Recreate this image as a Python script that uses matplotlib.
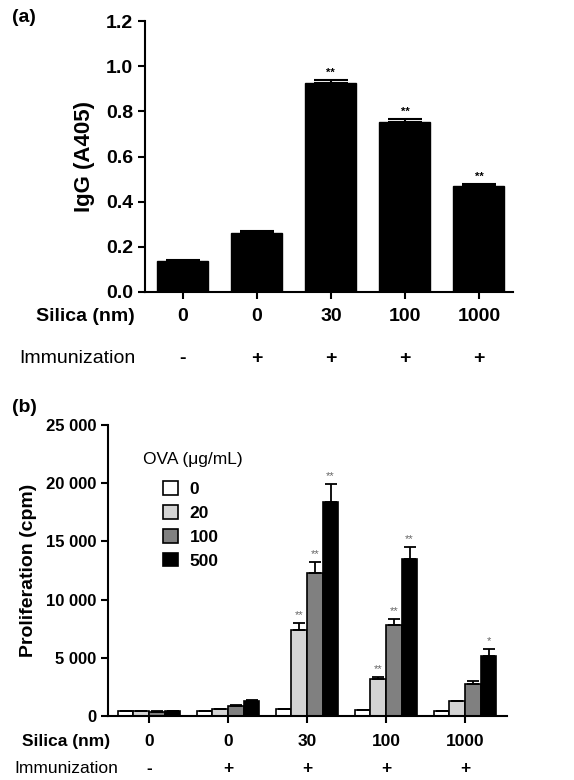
import numpy as np
import matplotlib
matplotlib.use("Agg")
import matplotlib.pyplot as plt
from matplotlib.patches import Patch

plt.rcParams['font.family'] = ['Liberation Sans', 'DejaVu Sans']
plt.rcParams['font.weight'] = 'bold'
plt.rcParams['axes.labelweight'] = 'bold'

# ---- data ----
silica = ['0', '0', '30', '100', '1000']
immunization = ['-', '+', '+', '+', '+']

igg = [0.137, 0.26, 0.925, 0.753, 0.469]
igg_err = [0.003, 0.01, 0.015, 0.014, 0.008]
igg_stars = ['', '', '**', '**', '**']

ova_doses = ['0', '20', '100', '500']
prolif = {
    '0':   [400, 420, 570, 515, 430],
    '20':  [400, 570, 7420, 3150, 1260],
    '100': [380, 900, 12290, 7850, 2780],
    '500': [420, 1290, 18360, 13460, 5150],
}
prolif_err = {
    '0':   [20, 20, 30, 30, 30],
    '20':  [20, 30, 570, 230, 60],
    '100': [20, 40, 910, 450, 220],
    '500': [30, 60, 1540, 1090, 580],
}
prolif_stars = {
    '0':   ['', '', '', '', ''],
    '20':  ['', '', '**', '**', ''],
    '100': ['', '', '**', '**', ''],
    '500': ['', '', '**', '**', '*'],
}
bar_colors = ['white', '#d4d4d4', '#808080', 'black']

W, H = 574, 780
fig = plt.figure(figsize=(W / 100, H / 100), dpi=100)


def px_axes(left, top, right, bottom):
    return fig.add_axes([left / W, 1 - bottom / H, (right - left) / W, (bottom - top) / H])


def style(ax):
    for s in ('top', 'right'):
        ax.spines[s].set_visible(False)
    for s in ('left', 'bottom'):
        ax.spines[s].set_linewidth(1.5)
    ax.tick_params(width=1.5, length=5, direction='out')


# ---- panel (a) ----
ax1 = px_axes(145, 21, 513, 292)
x = np.arange(len(silica))
ax1.bar(x, igg, width=0.69, color='black', edgecolor='black')
ax1.errorbar(x, igg, yerr=[np.zeros(len(igg)), igg_err], fmt='none',
             ecolor='black', elinewidth=1.5, capsize=12, capthick=1.5)
for xi, v, e, s in zip(x, igg, igg_err, igg_stars):
    if s:
        ax1.text(xi, v + e + 0.01, s, ha='center', va='bottom', fontsize=8)
ax1.set_xlim(-0.51, 4.46)
ax1.set_ylim(0, 1.2)
ax1.set_yticks(np.arange(0, 1.21, 0.2))
ax1.set_yticklabels([f'{v:.1f}' for v in np.arange(0, 1.21, 0.2)], fontsize=14)
ax1.set_xticks(x)
ax1.set_xticklabels([])
ax1.set_ylabel('IgG (A405)', fontsize=16, fontweight='bold', labelpad=8)
style(ax1)
for xi, s, im in zip(x, silica, immunization):
    ax1.text(xi, -0.092, s, transform=ax1.get_xaxis_transform(),
             ha='center', va='center', fontsize=14)
    ax1.text(xi, -0.244, im, transform=ax1.get_xaxis_transform(),
             ha='center', va='center', fontsize=14)
ax1.text(-0.027, -0.092, 'Silica (nm)', transform=ax1.transAxes,
         ha='right', va='center', fontsize=14)
ax1.text(-0.027, -0.244, 'Immunization', transform=ax1.transAxes,
         ha='right', va='center', fontsize=14, fontweight='normal')
fig.text(12 / W, 1 - 17 / H, '(a)', fontsize=14, va='center', ha='left')

# ---- panel (b) ----
ax2 = px_axes(108, 425, 507, 716)
bw = 0.198
for i, dose in enumerate(ova_doses):
    xs = x + (i - 1.5) * bw
    ax2.bar(xs, prolif[dose], width=bw, color=bar_colors[i], edgecolor='black', linewidth=1.2)
    ax2.errorbar(xs, prolif[dose], yerr=[np.zeros(5), prolif_err[dose]], fmt='none',
                 ecolor='black', elinewidth=1.3, capsize=4.5, capthick=1.3)
    for xi, v, e, s in zip(xs, prolif[dose], prolif_err[dose], prolif_stars[dose]):
        if s:
            ax2.text(xi, v + e + 250, s, ha='center', va='bottom', fontsize=8,
                     color='#666666', fontweight='normal')
ax2.set_xlim(-0.52, 4.53)
ax2.set_ylim(0, 25000)
yt = np.arange(0, 25001, 5000)
ax2.set_yticks(yt)
ax2.set_yticklabels(['0' if v == 0 else f'{v // 1000} 000' for v in yt], fontsize=12)
ax2.set_xticks(x)
ax2.set_xticklabels([])
ax2.set_ylabel('Proliferation (cpm)', fontsize=14, fontweight='bold', labelpad=6)
style(ax2)
for xi, s, im in zip(x, silica, immunization):
    ax2.text(xi, -0.089, s, transform=ax2.get_xaxis_transform(),
             ha='center', va='center', fontsize=12.5)
    ax2.text(xi, -0.182, im, transform=ax2.get_xaxis_transform(),
             ha='center', va='center', fontsize=12.5)
ax2.text(0.005, -0.089, 'Silica (nm)', transform=ax2.transAxes,
         ha='right', va='center', fontsize=12.5)
ax2.text(0.025, -0.182, 'Immunization', transform=ax2.transAxes,
         ha='right', va='center', fontsize=12.5, fontweight='normal')

ax2.text(0.088, 0.883, 'OVA (\u03bcg/mL)', transform=ax2.transAxes,
         ha='left', va='center', fontsize=12.5, fontweight='normal')
handles = [Patch(facecolor=c, edgecolor='black', linewidth=1.2) for c in bar_colors]
ax2.legend(handles, ova_doses, loc='upper left', bbox_to_anchor=(0.12, 0.83),
           frameon=False, fontsize=12.5, handlelength=0.85, handleheight=0.85,
           handletextpad=0.7, labelspacing=0.45, borderaxespad=0)
fig.text(12 / W, 1 - 407 / H, '(b)', fontsize=14, va='center', ha='left')

fig.savefig('out.png', dpi=100)
